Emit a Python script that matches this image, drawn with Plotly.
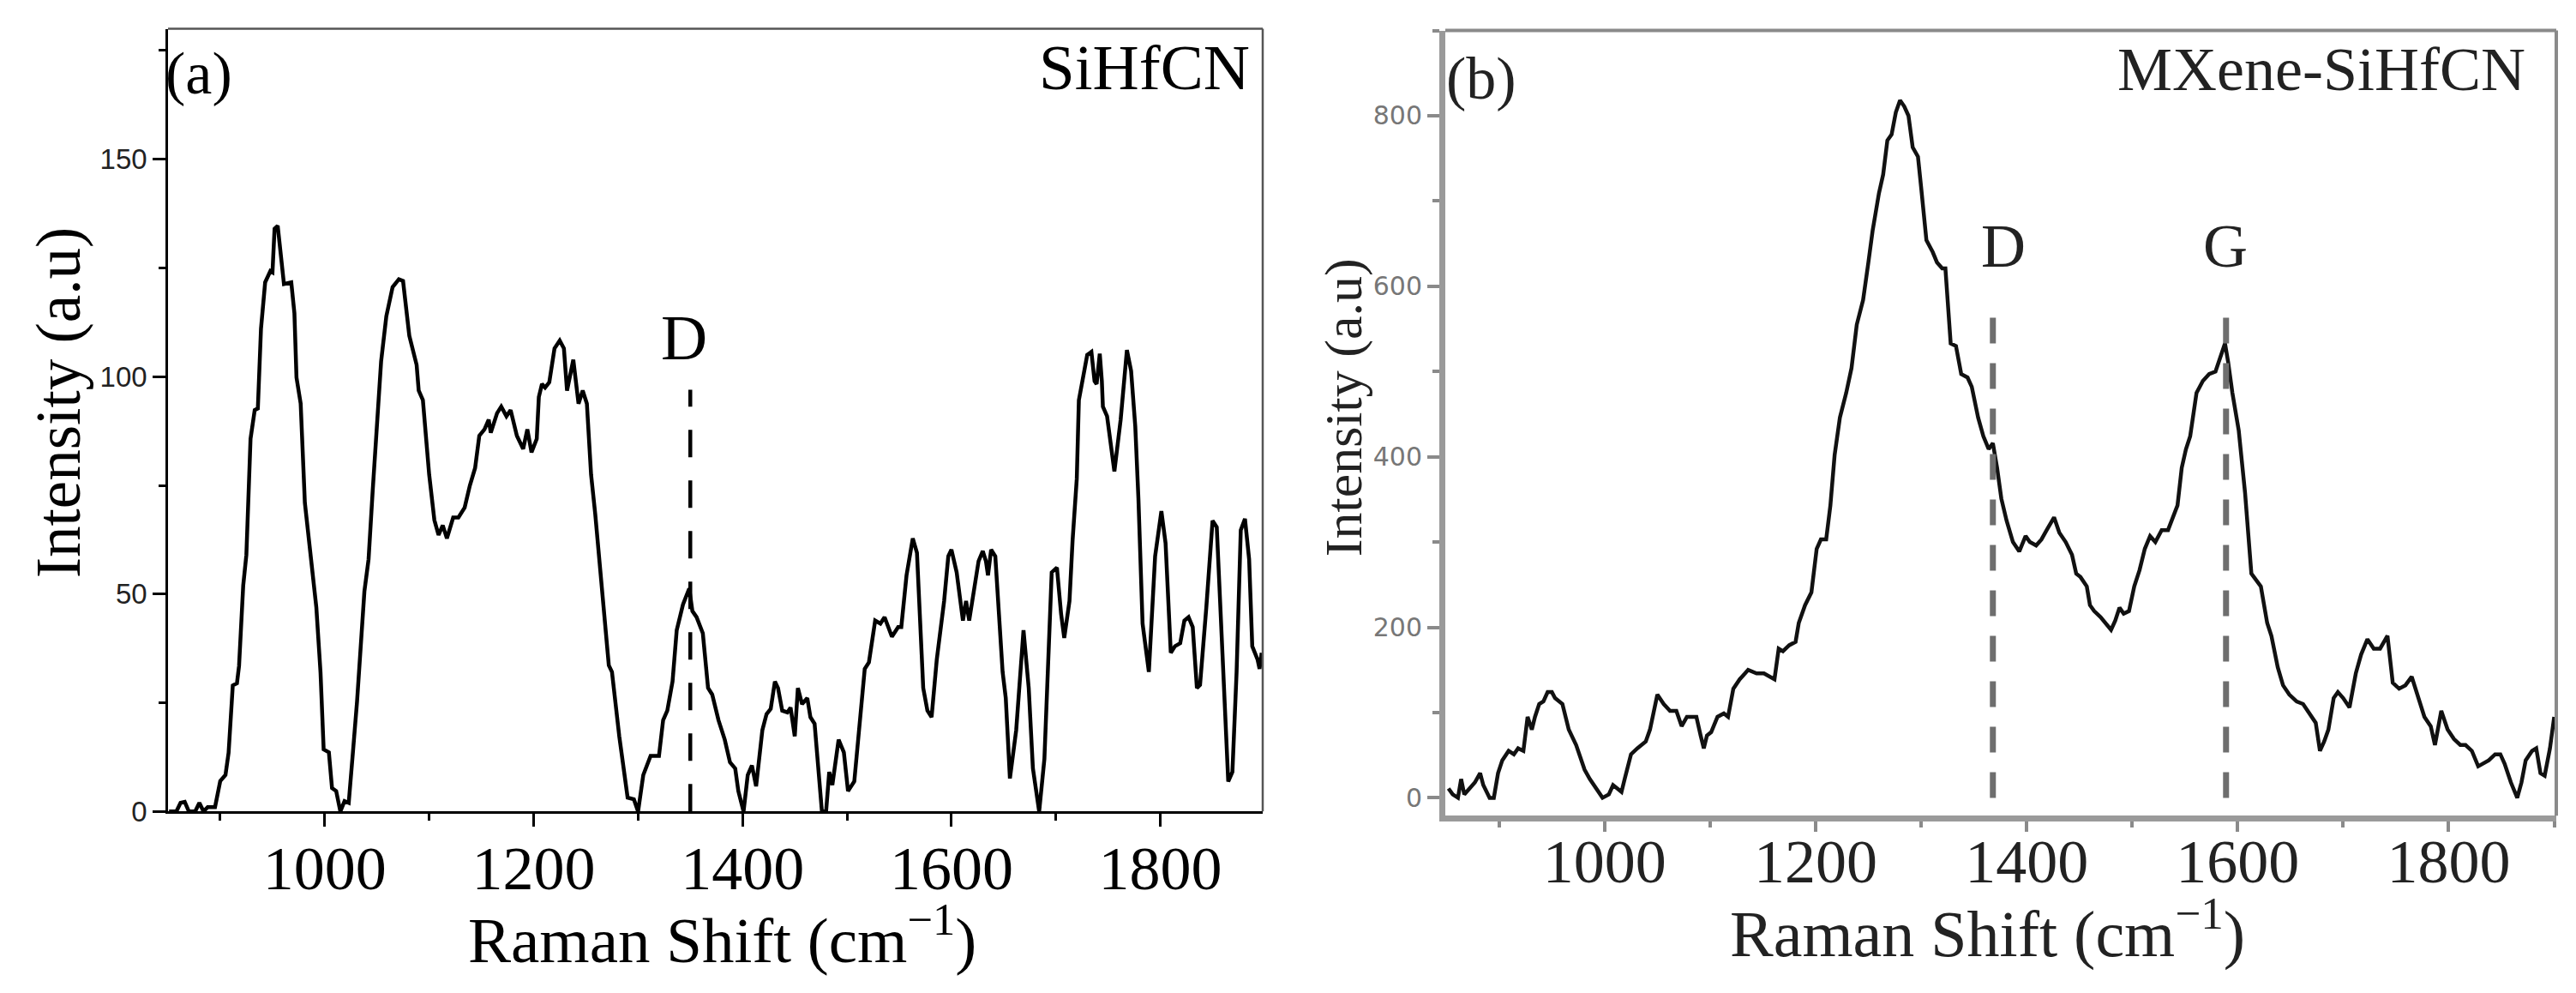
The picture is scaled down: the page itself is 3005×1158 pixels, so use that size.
import plotly.graph_objects as go

# ---------------- data ----------------
a_shift = [851, 858, 862, 866, 870, 876, 880, 884, 888, 895, 900, 905, 908, 912, 916, 918, 922, 925,
           929, 933, 936, 939, 943, 948, 950, 952, 955, 958, 961, 968, 971, 973, 977, 981, 985, 992,
           996, 999, 1004, 1007, 1011, 1015, 1019, 1023, 1027, 1031, 1038, 1042, 1046, 1054, 1059,
           1065, 1071, 1075, 1081, 1088, 1090, 1094, 1100, 1105, 1109, 1113, 1117, 1123, 1128, 1134,
           1139, 1144, 1148, 1153, 1157, 1159, 1165, 1169, 1174, 1178, 1184, 1190, 1194, 1198, 1203,
           1205, 1208, 1211, 1215, 1220, 1225, 1229, 1232, 1238, 1243, 1247, 1251, 1255, 1259, 1266,
           1272, 1275, 1282, 1290, 1296, 1300, 1305, 1312, 1320, 1324, 1328, 1333, 1337, 1343, 1349,
           1352, 1356, 1362, 1367, 1371, 1377, 1383, 1388, 1393, 1396, 1401, 1405, 1409, 1413, 1419,
           1423, 1427, 1431, 1434, 1438, 1443, 1446, 1450, 1453, 1457, 1462, 1465, 1469, 1476, 1480,
           1483, 1486, 1492, 1497, 1501, 1507, 1517, 1521, 1527, 1532, 1536, 1543, 1549, 1552, 1557,
           1563, 1567, 1573, 1577, 1581, 1586, 1593, 1597, 1600, 1605, 1611, 1614, 1617, 1626, 1630,
           1633, 1635, 1638, 1642, 1649, 1652, 1656, 1662, 1669, 1674, 1678, 1684, 1689, 1693, 1696,
           1701, 1705, 1708, 1713, 1716, 1720, 1722, 1726, 1730, 1734, 1737, 1739, 1742, 1744, 1745,
           1749, 1756, 1762, 1768, 1772, 1776, 1779, 1783, 1789, 1795, 1801, 1805, 1810, 1814, 1819,
           1823, 1827, 1831, 1835, 1838, 1844, 1850, 1854, 1858, 1862, 1865, 1869, 1873, 1877, 1881,
           1885, 1888, 1893, 1895, 1897]
a_int = [0, 0, 2, 2.2, 0, 0, 2, 0, 1, 1, 7, 8.4, 13.5, 29, 29.5, 33.5, 52, 59,
         85.7, 92.3, 92.7, 111, 121.7, 124.3, 124, 134, 134.7, 128.7, 121.3, 121.7, 114.6, 99.8, 93.8, 71, 61.7, 46.9,
         32, 14.3, 13.6, 5.4, 4.7, 0, 2.4, 2, 13.6, 25.4, 50.6, 58, 74, 103.5, 113.9,
         120.6, 122.4, 122, 109.4, 102.7, 96.8, 94.6, 77.5, 67, 63.6, 65.8, 62.8, 67.6, 67.6, 69.9,
         75, 79, 86.4, 87.9, 90.1, 87.1, 91.6, 93.1, 90.9, 92.3, 86.4, 83.4, 87.9, 82.6, 85.7,
         95.3, 98.3, 97.5, 98.7, 106.5, 108.3, 106.5, 96.8, 103.9, 93.8, 96.8, 93.8, 77.5, 68.4, 50.6,
         33.6, 32.1, 17.3, 3.2, 2.8, 0, 8.4, 12.8, 12.8, 21, 23.2, 29.9, 41.7, 47.6, 51.3,
         46.1, 44.7, 41, 28.4, 26.9, 21, 16.5, 11.3, 9.9, 4.7, 0, 8.4, 10.6, 5.8, 18.7,
         22.4, 23.6, 29.9, 28.4, 23.2, 22.8, 23.9, 17.3, 28.4, 24.7, 26.1, 21.7, 20.2, 0, 0,
         9.1, 6.1, 16.5, 13.6, 4.7, 6.9, 32.8, 34.3, 43.9, 43.2, 44.7, 40.2, 42.4, 42.4, 54.3,
         62.8, 59.5, 28.4, 23.2, 21.7, 35, 48.4, 58.7, 60.2, 55, 43.9, 48.4, 43.9, 57.6, 59.9,
         57.6, 54.3, 60.2, 58.7, 32.1, 26.1, 7.6, 18.7, 41.7, 28.4, 9.9, 0, 12.1, 36.5, 55,
         56.1, 45.4, 39.9, 48.4, 62.4, 76.5, 94.6, 99.8, 105, 105.7, 99, 98.3, 105.3, 99, 93.1,
         90.9, 78.2, 90.1, 106.1, 101.3, 88.6, 72, 43.2, 32.1, 58.7, 69.1, 61.7, 36.5, 38, 38.7,
         43.9, 44.7, 42.4, 28.4, 29.1, 46.9, 66.9, 65.4, 43.2, 24.7, 6.9, 9.1, 32.1, 64.7, 67.3,
         58, 38, 35, 32.8, 36.5]

b_shift = [852, 856, 861, 864, 867, 872, 877, 882, 885, 891, 895, 899, 903, 909, 914, 918, 923, 927,
           931, 934, 938, 942, 946, 950, 953, 960, 966, 973, 981, 986, 992, 998, 1004, 1008, 1012,
           1016, 1019, 1025, 1031, 1039, 1043, 1047, 1050, 1056, 1062, 1068, 1073, 1078, 1083, 1087,
           1091, 1094, 1097, 1101, 1107, 1113, 1117, 1122, 1128, 1136, 1144, 1151, 1161, 1165, 1169,
           1175, 1181, 1184, 1190, 1196, 1201, 1205, 1210, 1214, 1218, 1223, 1229, 1234, 1239, 1245,
           1250, 1254, 1260, 1264, 1268, 1272, 1276, 1280, 1284, 1288, 1292, 1297, 1300, 1305, 1311,
           1315, 1320, 1323, 1328, 1333, 1338, 1344, 1348, 1354, 1359, 1364, 1368, 1372, 1376, 1381,
           1387, 1393, 1399, 1403, 1409, 1414, 1419, 1426, 1431, 1437, 1443, 1447, 1451, 1457, 1460,
           1464, 1470, 1475, 1480, 1484, 1488, 1492, 1497, 1502, 1507, 1512, 1517, 1522, 1528, 1534,
           1539, 1543, 1547, 1551, 1555, 1561, 1567, 1573, 1579, 1583, 1588, 1591, 1595, 1601, 1607,
           1613, 1617, 1622, 1628, 1632, 1638, 1643, 1649, 1656, 1662, 1668, 1674, 1678, 1682, 1686,
           1691, 1695, 1700, 1706, 1712, 1717, 1723, 1729, 1735, 1742, 1747, 1753, 1759, 1765, 1771,
           1777, 1783, 1787, 1793, 1799, 1805, 1811, 1816, 1822, 1828, 1833, 1838, 1844, 1849, 1853,
           1859, 1865, 1869, 1873, 1879, 1883, 1887, 1891, 1896, 1900]
b_int = [11, 4, 0, 22, 4, 11, 18, 29, 15, 0, 0, 29, 44, 55, 51, 58, 55, 95,
         80, 95, 110, 113, 124, 124, 117, 110, 80, 62, 33, 22, 11, 0, 4, 15, 11,
         7, 22, 51, 58, 66, 80, 102, 121, 110, 102, 102, 84, 95, 95, 95,
         73, 58, 73, 77, 95, 99, 95, 128, 139, 150, 146, 146, 139, 175, 172,
         179, 183, 205, 226, 241, 292, 303, 303, 343, 402, 446, 475, 504, 555, 584,
         628, 665, 709, 731, 771, 778, 804, 818, 811, 800, 763, 752, 716, 654, 640,
         628, 621, 621, 533, 530, 497, 493, 482, 446, 424, 409, 416, 387, 351, 325,
         300, 289, 307, 300, 296, 303, 314, 329, 311, 300, 285, 263, 259, 248, 226,
         219, 212, 205, 197, 208, 223, 216, 219, 248, 267, 292, 307, 300, 314, 314,
         329, 343, 387, 409, 424, 475, 489, 497, 500, 515, 533, 511, 475, 431, 358,
         263, 256, 248, 205, 190, 153, 132, 121, 113, 110, 99, 88, 55, 66, 80,
         117, 124, 117, 106, 146, 168, 186, 175, 175, 190, 135, 128, 132, 142, 117,
         95, 84, 62, 102, 80, 69, 62, 62, 55, 37, 40, 44, 51, 51, 40,
         18, 0, 18, 44, 55, 58, 29, 26, 58, 95]

a_peak_shift = [1350]
a_peak_top = [97]
a_peak_label = ["D"]
a_label_y = [109]

b_peak_shift = [1368, 1589]
b_peak_top = [585, 585]
b_peak_label = ["D", "G"]
b_label_x = [1378, 1588]
b_label_y = [647, 647]

W, H = 3005, 1158
SERIF = "Liberation Serif"


def px(x):
    return x / W


def py(y):
    return 1 - y / H


fig = go.Figure()

# panel (a)
fig.add_trace(go.Scatter(x=a_shift, y=a_int, mode="lines", line=dict(color="black", width=4.5),
                         xaxis="x", yaxis="y", showlegend=False, hoverinfo="skip"))
for xp, top in zip(a_peak_shift, a_peak_top):
    fig.add_trace(go.Scatter(x=[xp, xp], y=[0, top], mode="lines",
                             line=dict(color="black", width=4.5, dash="32px,27px"),
                             xaxis="x", yaxis="y", showlegend=False, hoverinfo="skip"))

# panel (b)
fig.add_trace(go.Scatter(x=b_shift, y=b_int, mode="lines", line=dict(color="#111111", width=4.5),
                         xaxis="x2", yaxis="y2", showlegend=False, hoverinfo="skip"))
for xp, top in zip(b_peak_shift, b_peak_top):
    fig.add_trace(go.Scatter(x=[xp, xp], y=[0, top], mode="lines",
                             line=dict(color="#6e6e6e", width=7, dash="30px,23px"),
                             xaxis="x2", yaxis="y2", showlegend=False, hoverinfo="skip"))

axis_common = dict(showgrid=False, zeroline=False, showline=True, ticks="outside")

fig.update_layout(
    width=W, height=H,
    margin=dict(l=0, r=0, t=0, b=0),
    paper_bgcolor="white", plot_bgcolor="white",
    xaxis=dict(**axis_common, domain=[px(188), px(1465)], range=[850, 1898], anchor="y",
               linecolor="black", linewidth=2.5, tickcolor="black", tickwidth=2.5, ticklen=15,
               ticklabelstandoff=-13,
               tick0=0, dtick=200, tickfont=dict(family=SERIF, size=72, color="black"),
               minor=dict(ticks="outside", ticklen=8, tickwidth=2.5, tickcolor="black", dtick=100, tick0=0)),
    yaxis=dict(**axis_common, domain=[py(954), py(26)], range=[0, 180], anchor="x",
               linecolor="black", linewidth=2.5, tickcolor="black", tickwidth=2.5, ticklen=15,
               tick0=0, dtick=50, tickfont=dict(family="Liberation Sans", size=33, color="#222222"),
               minor=dict(ticks="outside", ticklen=8, tickwidth=2.5, tickcolor="black", dtick=25, tick0=0)),
    xaxis2=dict(**axis_common, domain=[px(1678), px(2974)], range=[849, 1902], anchor="y2",
                linecolor="#9a9a9a", linewidth=7, tickcolor="#8a8a8a", tickwidth=3.5, ticklen=12,
                ticklabelstandoff=-28,
                tick0=0, dtick=200, tickfont=dict(family=SERIF, size=72, color="#222222"),
                minor=dict(ticks="outside", ticklen=7, tickwidth=3.5, tickcolor="#8a8a8a", dtick=100, tick0=0)),
    yaxis2=dict(**axis_common, domain=[py(959), py(28)], range=[-21, 900], anchor="x2",
                linecolor="#9a9a9a", linewidth=7, tickcolor="#8a8a8a", tickwidth=3.5, ticklen=14,
                tick0=0, dtick=200, tickfont=dict(family="DejaVu Sans", size=30, color="#777777"),
                minor=dict(ticks="outside", ticklen=8, tickwidth=3.5, tickcolor="#8a8a8a", dtick=100, tick0=0)),
)

# frame top/right
shapes = [
    dict(type="line", xref="x domain", yref="y domain", x0=0, x1=1, y0=1, y1=1,
         line=dict(color="#555555", width=2.5)),
    dict(type="line", xref="x domain", yref="y domain", x0=1, x1=1, y0=0, y1=1,
         line=dict(color="#555555", width=2.5)),
    dict(type="line", xref="x2 domain", yref="y2 domain", x0=0, x1=1, y0=1, y1=1,
         line=dict(color="#8a8a8a", width=4)),
    dict(type="line", xref="x2 domain", yref="y2 domain", x0=1, x1=1, y0=0, y1=1,
         line=dict(color="#8a8a8a", width=4)),
]
fig.update_layout(shapes=shapes)

ann = []


def txt(text, x, y, size, color="black", xanchor="center", angle=0, xref="paper", yref="paper"):
    ann.append(dict(text=text, x=x, y=y, xref=xref, yref=yref, xanchor=xanchor, yanchor="middle",
                    showarrow=False, textangle=angle, font=dict(family=SERIF, size=size, color=color)))


# panel (a) texts
txt("(a)", px(183), py(79), 70, xanchor="left")
txt("SiHfCN", px(1452), py(72), 75, xanchor="right")
txt("Raman Shift (cm<sup>−1</sup>)", px(835), py(1101), 75)
txt("Intensity (a.u)", px(60), py(470), 73, angle=-90)
for xp, lab, ly in zip(a_peak_shift, a_peak_label, a_label_y):
    txt(lab, xp - 6, ly, 75, xref="x", yref="y")

# panel (b) texts
txt("(b)", px(1677), py(85), 70, color="#222222", xanchor="left")
txt("MXene-SiHfCN", px(2940), py(74), 72, color="#222222", xanchor="right")
txt("Raman Shift (cm<sup>−1</sup>)", px(2310), py(1094), 76, color="#222222")
txt("Intensity (a.u)", px(1559), py(475), 62, color="#222222", angle=-90)
for xl, lab, ly in zip(b_label_x, b_peak_label, b_label_y):
    txt(lab, xl, ly, 72, color="#222222", xref="x2", yref="y2")

fig.update_layout(annotations=ann)

fig.write_html("out.html")
